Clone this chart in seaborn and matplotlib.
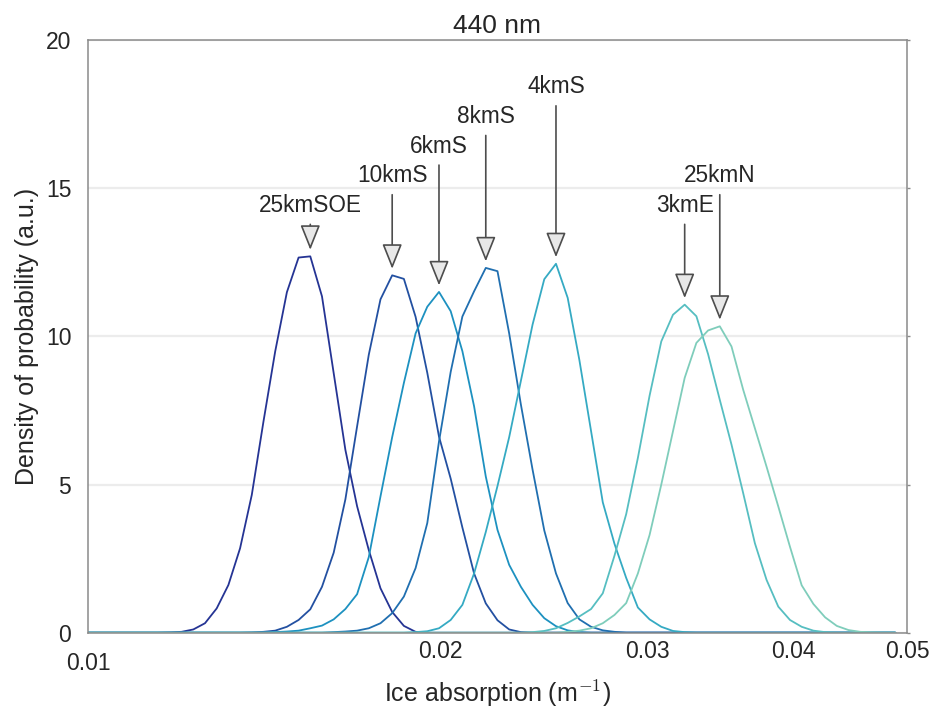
import numpy as np
import pandas as pd
import matplotlib
matplotlib.use("Agg")
import matplotlib.pyplot as plt
from matplotlib.ticker import NullLocator, FixedLocator, FixedFormatter
from matplotlib.transforms import ScaledTranslation
import seaborn as sns

# ---------------- data ----------------
# log-spaced absorption bins between 0.01 and 0.05 (left edges of 70 bins)
bin_edges = np.geomspace(0.01, 0.05, 71)
absorption = bin_edges[:-1]

sites = ["25kmSOE", "10kmS", "6kmS", "8kmS", "4kmS", "3kmE", "25kmN"]

# index of the first listed bin for each site; all other bins are zero
first_bin = [7, 14, 16, 21, 28, 38, 41]

dens_25kmSOE = [0.01, 0.03, 0.11, 0.32, 0.82, 1.61, 2.85, 4.65, 7.13, 9.49, 11.49,
                12.66, 12.70, 11.35, 8.76, 6.17, 4.27, 2.79, 1.50, 0.70, 0.23, 0.03]
dens_10kmS = [0.01, 0.03, 0.07, 0.20, 0.43, 0.79, 1.55, 2.70, 4.50, 6.96, 9.38, 11.25,
              12.06, 11.94, 10.66, 8.77, 6.62, 5.20, 3.55, 2.00, 0.99, 0.42, 0.11, 0.02]
dens_6kmS = [0.02, 0.04, 0.07, 0.15, 0.24, 0.45, 0.80, 1.30, 2.55, 4.60, 6.60, 8.43,
             10.10, 11.00, 11.50, 10.85, 9.50, 7.64, 5.27, 3.47, 2.29, 1.55, 0.94,
             0.49, 0.22, 0.08, 0.02]
dens_8kmS = [0.02, 0.04, 0.07, 0.15, 0.32, 0.66, 1.22, 2.18, 3.70, 6.45, 8.80, 10.67,
             11.52, 12.31, 12.20, 10.10, 7.70, 5.50, 3.45, 2.00, 1.00, 0.45, 0.20,
             0.08, 0.03]
dens_4kmS = [0.02, 0.05, 0.15, 0.43, 0.94, 2.00, 3.40, 4.95, 6.60, 8.50, 10.40, 11.93,
             12.45, 11.30, 9.20, 6.80, 4.40, 3.00, 1.85, 0.85, 0.45, 0.20, 0.06, 0.02]
dens_3kmE = [0.02, 0.06, 0.15, 0.33, 0.55, 0.80, 1.33, 2.60, 4.00, 5.90, 8.00, 9.83,
             10.73, 11.07, 10.68, 9.40, 7.86, 6.35, 4.71, 3.02, 1.78, 0.88, 0.43,
             0.20, 0.07, 0.02]
dens_25kmN = [0.03, 0.07, 0.15, 0.32, 0.60, 1.00, 2.00, 3.30, 5.00, 6.80, 8.60, 9.78,
              10.20, 10.34, 9.66, 8.20, 6.90, 5.60, 4.26, 2.90, 1.60, 0.97, 0.52,
              0.23, 0.09, 0.03, 0.01]

densities = [dens_25kmSOE, dens_10kmS, dens_6kmS, dens_8kmS, dens_4kmS,
             dens_3kmE, dens_25kmN]

label_levels = [14.2, 15.2, 16.2, 17.2, 18.2, 14.2, 15.2]

colors = {"25kmSOE": "#253494", "10kmS": "#2350a1", "8kmS": "#206fb0",
          "6kmS": "#1d91c0", "4kmS": "#35aac3", "3kmE": "#56bec1",
          "25kmN": "#7fcdbb"}

x_tick_values = [0.01, 0.02, 0.03, 0.04, 0.05]
x_tick_labels = ["0.01", "0.02", "0.03", "0.04", "0.05"]
y_tick_values = [0, 5, 10, 15, 20]

# ---------------- build long table ----------------
rows = []
for site, start, vals in zip(sites, first_bin, densities):
    full = np.zeros(len(absorption))
    full[start:start + len(vals)] = vals
    for xv, yv in zip(absorption, full):
        rows.append((site, xv, yv))
df = pd.DataFrame(rows, columns=["site", "absorption", "density"])

# ---------------- style ----------------
sns.set_style("white")
plt.rcParams["font.family"] = ["Liberation Sans", "DejaVu Sans"]
plt.rcParams["mathtext.fontset"] = "cm"
text_color = "#262626"
spine_color = "#8a8a8a"

fig = plt.figure(figsize=(9.36, 7.11), dpi=100)
ax = fig.add_axes([0.094, 0.1101, 0.875, 0.8336])

sns.lineplot(data=df, x="absorption", y="density", hue="site",
             hue_order=sites, palette=colors, legend=False,
             errorbar=None, lw=1.3, ax=ax)

ax.set_xscale("log")
ax.set_xlim(0.01, 0.05)
ax.set_ylim(0, 20)
ax.xaxis.set_major_locator(FixedLocator(x_tick_values))
ax.xaxis.set_major_formatter(FixedFormatter(x_tick_labels))
ax.xaxis.set_minor_locator(NullLocator())
ax.set_yticks(y_tick_values)

ax.yaxis.grid(True, color="#ececec", lw=1.6)
ax.xaxis.grid(False)
ax.set_axisbelow(True)

for sp in ax.spines.values():
    sp.set_visible(True)
    sp.set_color(spine_color)
    sp.set_linewidth(1.1)

ax.tick_params(axis="x", length=0, pad=5, labelsize=16.5, labelcolor=text_color)
ax.tick_params(axis="y", left=False, right=True, length=2, width=1,
               color=spine_color, pad=10, labelsize=16.5, labelcolor=text_color)

# first x tick label sits lower in the reference
fig.canvas.draw()
lbl0 = ax.get_xticklabels()[0]
lbl0.set_transform(lbl0.get_transform() +
                   ScaledTranslation(0, -12 / 100, fig.dpi_scale_trans))

ax.set_xlabel("Ice absorption (m$^{-1}$)", fontsize=18, color=text_color, labelpad=3)
ax.set_ylabel("Density of probability (a.u.)", fontsize=18, color=text_color,
              labelpad=5)
ax.set_title("440 nm", fontsize=19, color=text_color, pad=5)

# ---------------- annotations ----------------
for site, vals, start, level in zip(sites, densities, first_bin, label_levels):
    k = int(np.argmax(vals))
    xp = absorption[start + k]
    tip = vals[k] + 0.22
    ax.annotate(site, xy=(xp, tip), xytext=(xp, level),
                ha="center", va="baseline", fontsize=16.3, color=text_color,
                arrowprops=dict(arrowstyle="-|>,head_length=1.55,head_width=0.62",
                                mutation_scale=10, fc="#e8e8e8", ec="#4d4d4d",
                                lw=1.2, shrinkA=3, shrinkB=0))

fig.savefig("out.png", dpi=100)
